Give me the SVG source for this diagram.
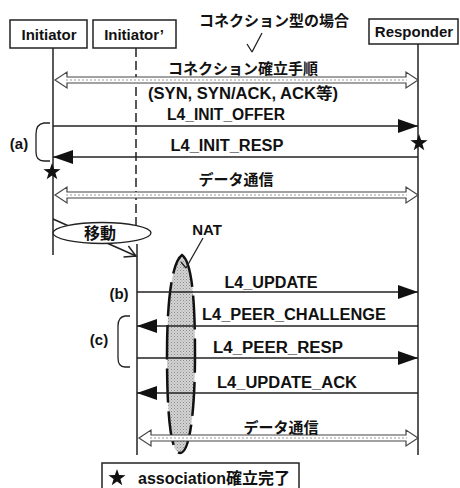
<svg xmlns="http://www.w3.org/2000/svg" width="460" height="488" viewBox="0 0 460 488">
<defs>
<style>
text{font-family:"Liberation Sans","Noto Sans CJK JP",sans-serif;font-weight:bold;fill:#111;}
.box{fill:#fff;stroke:#222;stroke-width:1.5;}
.life{stroke:#222;stroke-width:1.5;fill:none;}
.msg{stroke:#222;stroke-width:1.5;fill:none;marker-end:url(#ah);}
.hollow{fill:#fff;stroke:#444;stroke-width:1.2;}
.dots{stroke:#999;stroke-width:1;stroke-dasharray:2 2;fill:none;}
.brk{stroke:#222;stroke-width:1.3;fill:none;}
</style>
<marker id="ah" markerUnits="userSpaceOnUse" markerWidth="20" markerHeight="14" refX="20" refY="7" orient="auto">
<path d="M0,0 L20,7 L0,14 z" fill="#111"/>
</marker>
<marker id="open" markerUnits="userSpaceOnUse" markerWidth="14" markerHeight="14" refX="12" refY="7" orient="auto">
<path d="M1,1 L12,7 L1,13" fill="none" stroke="#222" stroke-width="1.5"/>
</marker>
<pattern id="stip" width="3" height="3" patternUnits="userSpaceOnUse">
<rect width="3" height="3" fill="#d4d4d4"/>
<rect x="0" y="0" width="1" height="1" fill="#8a8a8a"/>
<rect x="1.5" y="1.5" width="1" height="1" fill="#a0a0a0"/>
</pattern>
<path id="star" d="M0,-9 L2.1,-2.9 L8.6,-2.8 L3.4,1.1 L5.3,7.3 L0,3.6 L-5.3,7.3 L-3.4,1.1 L-8.6,-2.8 L-2.1,-2.9 z" fill="#111"/>
</defs>
<rect width="460" height="488" fill="#fff"/>

<text x="274" y="26" font-size="15" text-anchor="middle">コネクション型の場合</text>
<path d="M262,33 L252,52 M247,44 L252,52" class="brk"/>

<g id="initiator">
<rect class="box" x="10" y="20" width="77" height="28"/>
<text x="49" y="40" font-size="15" text-anchor="middle">Initiator</text>
</g>
<g id="initiator2">
<rect class="box" x="93" y="20" width="83" height="28"/>
<text x="134" y="40" font-size="15" text-anchor="middle">Initiator’</text>
</g>
<g id="responder">
<rect class="box" x="369" y="19" width="89" height="25"/>
<text x="414" y="37" font-size="15" text-anchor="middle">Responder</text>
</g>

<g id="nat">
<path d="M182,255 C192,262 195,300 195,354 C195,410 190,453 180,453 C170,453 167,410 167,354 C167,300 172,262 182,255 z" fill="url(#stip)" stroke="#111" stroke-width="2.5" stroke-dasharray="34 9"/>
<text x="207" y="235" font-size="15" text-anchor="middle">NAT</text>
<path d="M203,238 L186,268 M181,262 L186,268" class="brk"/>
</g>

<g id="connectors">
<line class="life" x1="53" y1="48" x2="53" y2="255"/>
<line class="life" x1="136" y1="48" x2="136" y2="226" stroke-dasharray="9 4"/>
<line class="life" x1="137" y1="244" x2="137" y2="455"/>
<line class="life" x1="418" y1="44" x2="418" y2="455"/>

<polygon class="hollow" points="55,80 67,72 67,77 406,77 406,72 418,80 406,88 406,83 67,83 67,88"/>
<line class="dots" x1="66" y1="80" x2="407" y2="80"/>
<text x="243" y="74" font-size="15" text-anchor="middle">コネクション確立手順</text>
<text x="243" y="99" font-size="16" text-anchor="middle" textLength="190" lengthAdjust="spacingAndGlyphs">(SYN, SYN/ACK, ACK等)</text>

<line class="msg" x1="53" y1="126" x2="418" y2="126"/>
<text x="226" y="120" font-size="16" text-anchor="middle" textLength="118" lengthAdjust="spacingAndGlyphs">L4_INIT_OFFER</text>
<line class="msg" x1="418" y1="157" x2="53" y2="157"/>
<text x="227" y="151" font-size="16" text-anchor="middle" textLength="113" lengthAdjust="spacingAndGlyphs">L4_INIT_RESP</text>
<use href="#star" x="419" y="143"/>
<use href="#star" x="52" y="172"/>
<path class="brk" d="M50,123 L44,123 Q36,124 36,134 L36,152 Q36,161 44,161 L50,161"/>
<text x="19" y="149" font-size="15" text-anchor="middle">(a)</text>

<polygon class="hollow" points="55,195 67,187 67,192 406,192 406,187 418,195 406,203 406,198 67,198 67,203"/>
<line class="dots" x1="66" y1="195" x2="407" y2="195"/>
<text x="236" y="185" font-size="15" text-anchor="middle">データ通信</text>

<line x1="53" y1="219" x2="136" y2="256" stroke="#222" stroke-width="1.5" marker-end="url(#open)"/>

<line class="msg" x1="137" y1="292" x2="418" y2="292"/>
<text x="271" y="288" font-size="16" text-anchor="middle" textLength="93" lengthAdjust="spacingAndGlyphs">L4_UPDATE</text>
<text x="119" y="299" font-size="15" text-anchor="middle">(b)</text>
<line class="msg" x1="418" y1="326" x2="137" y2="326"/>
<text x="294" y="320" font-size="16" text-anchor="middle" textLength="184" lengthAdjust="spacingAndGlyphs">L4_PEER_CHALLENGE</text>
<line class="msg" x1="137" y1="358" x2="418" y2="358"/>
<text x="278" y="353" font-size="16" text-anchor="middle" textLength="130" lengthAdjust="spacingAndGlyphs">L4_PEER_RESP</text>
<path class="brk" d="M130,316 L125,316 Q118,317 118,326 L118,358 Q118,367 125,367 L130,367"/>
<text x="99" y="345" font-size="15" text-anchor="middle">(c)</text>
<line class="msg" x1="418" y1="393" x2="137" y2="393"/>
<text x="287" y="388" font-size="16" text-anchor="middle" textLength="140" lengthAdjust="spacingAndGlyphs">L4_UPDATE_ACK</text>

<polygon class="hollow" points="139,438 151,430 151,435 406,435 406,430 418,438 406,446 406,441 151,441 151,446"/>
<line class="dots" x1="150" y1="438" x2="407" y2="438"/>
<text x="281" y="433" font-size="15" text-anchor="middle">データ通信</text>
</g>

<g id="move">
<ellipse cx="102" cy="233" rx="49" ry="10.5" fill="#fff" stroke="#222" stroke-width="1.3"/>
<text x="100" y="239" font-size="16" text-anchor="middle">移動</text>
</g>

<g id="legend">
<rect class="box" x="102" y="463" width="197" height="30"/>
<use href="#star" x="117" y="478"/>
<text x="138" y="484" font-size="16">association確立完了</text>
</g>
</svg>
